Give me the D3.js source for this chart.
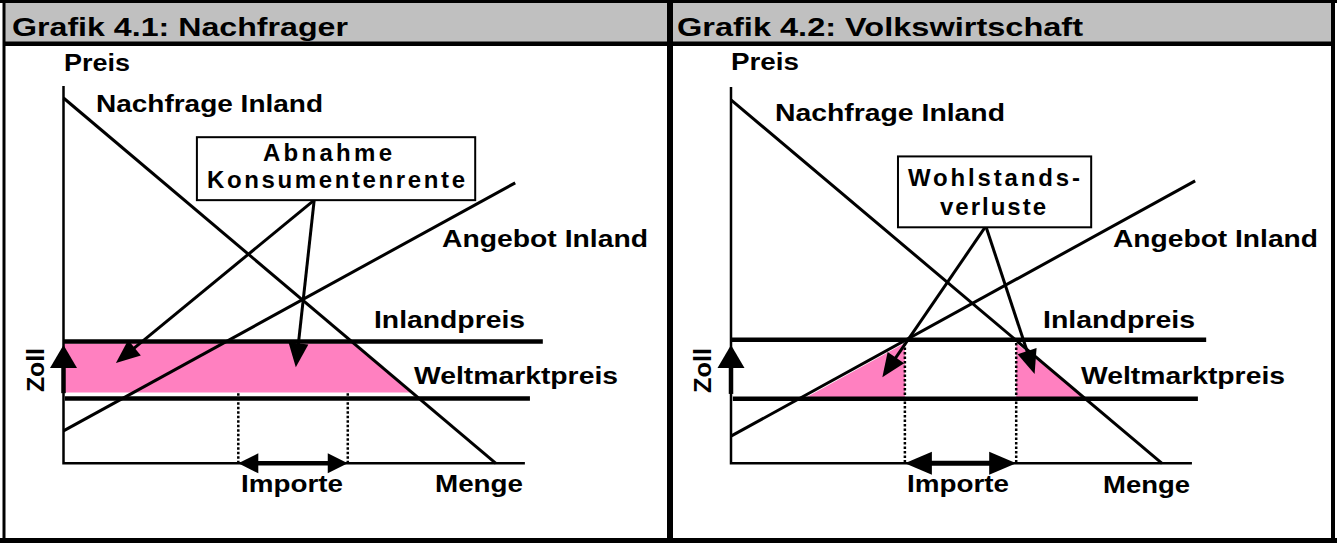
<!DOCTYPE html>
<html><head><meta charset="utf-8">
<script src="https://cdn.jsdelivr.net/npm/d3@7"></script>
<style>
body{margin:0;background:#fff}
svg{display:block}
text{font-family:"Liberation Sans",Arial,Helvetica,sans-serif;font-weight:bold;fill:#000}
</style>
</head><body><script>
// ---------- data (abstract units: Menge 0..100, Preis 0..100) ----------
const titles = ["Grafik 4.1: Nachfrager", "Grafik 4.2: Volkswirtschaft"];
const axisNames = ["Preis", "Menge"];
const curveNames = ["Nachfrage Inland", "Angebot Inland", "Inlandpreis", "Weltmarktpreis", "Importe", "Zoll"];
const boxTexts = [["Abnahme", "Konsumentenrente"], ["Wohlstands-", "verluste"]];

const demand = [[[0, 96.9], [94.0, 0]], [[0, 96.4], [93.7, 0]]];
const supply = [[[0, 8.6], [98.2, 74.4]], [[0, 7.2], [100.9, 74.9]]];
const inlandPrice = [32.3, 32.8];
const inlandExtent = [[0, 104.2], [0, 103.3]];
const worldPrice = [17.2, 17.1];
const worldExtent = [[0.3, 101.4], [0.4, 101.5]];
const axisMaxX = [100.3, 100.2];
const axisMaxY = [100.1, 99.8];
const importQty = [[38.0, 61.8], [37.8, 62.0]];
const dottedTop = [18.6, 31.9];
const zollRange = [[18.6, 31.4], [18.4, 31.4]];
const lossAreas = [
  [[[0, 31.8], [63.0, 31.8], [75.7, 18.8], [0, 18.8]]],
  [[[16.5, 17.6], [37.8, 17.6], [37.8, 31.9]], [[62.0, 31.9], [62.0, 17.6], [76.5, 17.6]]]
];
const calloutApex = [[54.5, 69.8], [55.4, 62.9]];
const calloutTips = [[[11.4, 26.6], [50.5, 25.5]], [[32.9, 22.8], [66.0, 23.7]]];
const boxCorners = [[[29.0, 86.5], [89.5, 69.8]], [[36.3, 81.4], [78.3, 62.6]]];

// ---------- layout ----------
const W = 1337, H = 543;
const xs = [d3.scaleLinear([0, 100], [63.5, 523.5]), d3.scaleLinear([0, 100], [731, 1191])];
const y = d3.scaleLinear([0, 100], [463.3, 86.3]);

const labelPos = [
  { title: [12, 36, 336], preis: [64, 71, 66], nach: [96, 112, 227], ang: [442, 247, 206],
    inl: [374, 328, 151], welt: [414, 384, 204], imp: [241, 492, 102], menge: [435, 492, 88],
    zoll: [43.5, 392, 44], box: [[263, 161, 129], [207, 188, 258]], impHead: [20, 10, 4.5] },
  { title: [677, 36, 406], preis: [731, 70, 68], nach: [775, 121, 230], ang: [1113, 247, 205],
    inl: [1043, 328, 152], welt: [1081, 384, 204], imp: [907, 492, 102], menge: [1103, 493, 87],
    zoll: [710.5, 393, 45], box: [[908, 186, 172], [940, 215, 106]], impHead: [27, 11.5, 5] }
];

const svg = d3.select("body").append("svg").attr("width", W).attr("height", H);

// frame & headers
svg.append("rect").attr("x", 0).attr("y", 0).attr("width", W).attr("height", H).attr("fill", "#fff");
svg.append("rect").attr("x", 3).attr("y", 2).attr("width", 1330).attr("height", 40).attr("fill", "#c0c0c0");
svg.append("rect").attr("x", 0).attr("y", 0).attr("width", W).attr("height", 3).attr("fill", "#000");
svg.append("rect").attr("x", 3).attr("y", 41.5).attr("width", 1331).attr("height", 4.5).attr("fill", "#000");
svg.append("rect").attr("x", 2.5).attr("y", 0).attr("width", 3).attr("height", H).attr("fill", "#000");
svg.append("rect").attr("x", 1331).attr("y", 0).attr("width", 4).attr("height", H).attr("fill", "#000");
svg.append("rect").attr("x", 0).attr("y", 538).attr("width", W).attr("height", 5).attr("fill", "#000");
svg.append("rect").attr("x", 667).attr("y", 0).attr("width", 6).attr("height", 540).attr("fill", "#000");

function txt(g, s, p, size, adjust) {
  return g.append("text").attr("x", p[0]).attr("y", p[1]).attr("font-size", size)
    .attr("textLength", p[2]).attr("lengthAdjust", adjust || "spacingAndGlyphs").text(s);
}
function arrowHead(g, tip, from, L, Wd) {
  const dx = tip[0] - from[0], dy = tip[1] - from[1], d = Math.hypot(dx, dy);
  const ux = dx / d, uy = dy / d;
  const bx = tip[0] - ux * L, by = tip[1] - uy * L;
  g.append("path")
    .attr("d", `M${tip[0]},${tip[1]}L${bx - uy * Wd},${by + ux * Wd}L${bx + uy * Wd},${by - ux * Wd}Z`)
    .attr("fill", "#000");
  return [bx + ux * 2, by + uy * 2];
}

[0, 1].forEach(i => {
  const x = xs[i], L = labelPos[i];
  const g = svg.append("g");
  const line = d3.line().x(d => x(d[0])).y(d => y(d[1]));

  txt(g, titles[i], L.title, 26);

  // pink areas
  lossAreas[i].forEach(poly => {
    g.append("path").attr("d", line(poly) + "Z").attr("fill", "#ff80c0");
  });

  // dotted import lines
  importQty[i].forEach(q => {
    g.append("path").attr("d", line([[q, dottedTop[i]], [q, 0]]))
      .attr("stroke", "#000").attr("stroke-width", 2.5).attr("stroke-dasharray", "2.5,2").attr("fill", "none");
  });

  // axes
  g.append("path").attr("d", line([[0, axisMaxY[i]], [0, 0], [axisMaxX[i], 0]]))
    .attr("stroke", "#000").attr("stroke-width", 2.5).attr("fill", "none");

  // price lines
  g.append("path").attr("d", line([[inlandExtent[i][0], inlandPrice[i]], [inlandExtent[i][1], inlandPrice[i]]]))
    .attr("stroke", "#000").attr("stroke-width", 4.5);
  g.append("path").attr("d", line([[worldExtent[i][0], worldPrice[i]], [worldExtent[i][1], worldPrice[i]]]))
    .attr("stroke", "#000").attr("stroke-width", 4.5);

  // demand & supply
  g.append("path").attr("d", line(demand[i])).attr("stroke", "#000").attr("stroke-width", 3).attr("fill", "none");
  g.append("path").attr("d", line(supply[i])).attr("stroke", "#000").attr("stroke-width", 3).attr("fill", "none");

  // labels
  txt(g, axisNames[0], L.preis, 23);
  txt(g, axisNames[1], L.menge, 23);
  txt(g, curveNames[0], L.nach, 23);
  txt(g, curveNames[1], L.ang, 23);
  txt(g, curveNames[2], L.inl, 23);
  txt(g, curveNames[3], L.welt, 23);
  txt(g, curveNames[4], L.imp, 23);
  g.append("text").attr("transform", `translate(${L.zoll[0]},${L.zoll[1]}) rotate(-90)`)
    .attr("font-size", 23).attr("textLength", L.zoll[2]).attr("lengthAdjust", "spacingAndGlyphs")
    .text(curveNames[5]);

  // Zoll arrow
  const zb = [x(0), y(zollRange[i][0])], zt = [x(0), y(zollRange[i][1])];
  const zbase = arrowHead(g, zt, zb, 23, 13.5);
  g.append("line").attr("x1", zb[0]).attr("y1", zb[1]).attr("x2", zbase[0]).attr("y2", zbase[1])
    .attr("stroke", "#000").attr("stroke-width", 4.5);

  // Importe double arrow
  const ia = [x(importQty[i][0]), y(0)], ib = [x(importQty[i][1]), y(0)];
  const hb1 = arrowHead(g, ia, ib, L.impHead[0], L.impHead[1]);
  const hb2 = arrowHead(g, ib, ia, L.impHead[0], L.impHead[1]);
  g.append("line").attr("x1", hb1[0]).attr("y1", hb1[1]).attr("x2", hb2[0]).attr("y2", hb2[1])
    .attr("stroke", "#000").attr("stroke-width", L.impHead[2]);

  // callout arrows
  const ap = [x(calloutApex[i][0]), y(calloutApex[i][1])];
  calloutTips[i].forEach(t => {
    const tp = [x(t[0]), y(t[1])];
    const b = arrowHead(g, tp, ap, 24, 10);
    g.append("line").attr("x1", ap[0]).attr("y1", ap[1]).attr("x2", b[0]).attr("y2", b[1])
      .attr("stroke", "#000").attr("stroke-width", 3);
  });

  // callout box
  const bc = boxCorners[i];
  g.append("rect").attr("x", x(bc[0][0])).attr("y", y(bc[0][1]))
    .attr("width", x(bc[1][0]) - x(bc[0][0])).attr("height", y(bc[1][1]) - y(bc[0][1]))
    .attr("fill", "#fff").attr("stroke", "#000").attr("stroke-width", 2);
  txt(g, boxTexts[i][0], L.box[0], 24, "spacing");
  txt(g, boxTexts[i][1], L.box[1], 24, "spacing");
});
</script></body></html>
